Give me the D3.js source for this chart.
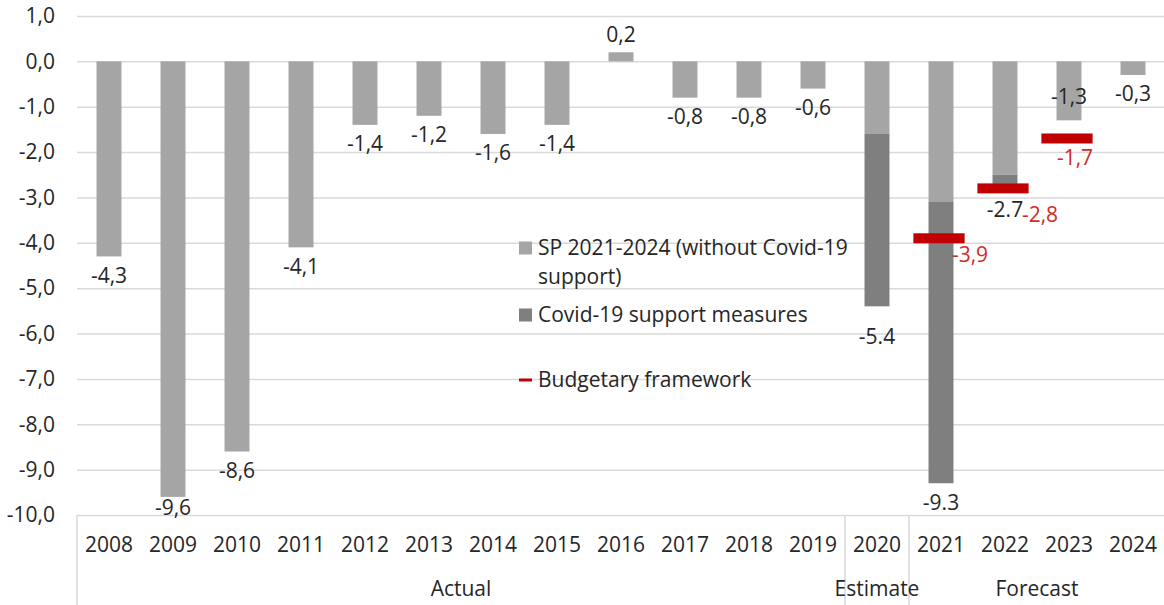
<!DOCTYPE html>
<html>
<head>
<meta charset="utf-8">
<script src="https://cdn.jsdelivr.net/npm/d3@7"></script>
<style>
  body { margin: 0; background: #fff; }
  text { font-family: "Open Sans", sans-serif; font-size: 21px; fill: #262626; }
</style>
</head>
<body>
<script>
// chart data
const years = ['2008', '2009', '2010', '2011', '2012', '2013', '2014', '2015', '2016',
  '2017', '2018', '2019', '2020', '2021', '2022', '2023', '2024'];
const spValues = [-4.3, -9.6, -8.6, -4.1, -1.4, -1.2, -1.6, -1.4, 0.2,
  -0.8, -0.8, -0.6, -1.6, -3.1, -2.5, -1.3, -0.3];
const covidValues = [0, 0, 0, 0, 0, 0, 0, 0, 0, 0, 0, 0, -3.8, -6.2, -0.2, 0, 0];
const frameworkYears = ['2021', '2022', '2023'];
const frameworkValues = [-3.9, -2.8, -1.7];
const groupNames = ['Actual', 'Estimate', 'Forecast'];
const groupFirst = ['2008', '2020', '2021'];
const groupLast = ['2019', '2020', '2024'];
const yTicks = [1, 0, -1, -2, -3, -4, -5, -6, -7, -8, -9, -10];
const legendLabels = ['SP 2021-2024 (without Covid-19|support)', 'Covid-19 support measures', 'Budgetary framework'];

// hand placed label nudges (px), like the moved labels in the original
const labelNudge = { '2009': -8, '2020': 11, '2022': 7, '2023': -43 };
const redNudge = [[29, 16], [35, 26], [6, 19]];

const width = 1164;
const height = 605;
const margin = { top: 16, left: 77, right: 0 };
const plotBottom = 515;

const svg = d3.select('body').append('svg')
  .attr('width', width)
  .attr('height', height);

const x = d3.scaleBand()
  .domain(years)
  .range([margin.left, width + 1])
  .paddingInner(0.61)
  .paddingOuter(0.305);

const y = d3.scaleLinear()
  .domain([-10, 1])
  .range([plotBottom, margin.top]);

const fmtComma = d => d3.format('.1f')(d).replace('.', ',').replace('−', '-');
const fmtDot = d => d3.format('.1f')(d).replace('−', '-');

// gridlines + y labels
const yAxis = d3.axisLeft(y)
  .tickValues(yTicks)
  .tickSize(-(width - margin.left))
  .tickPadding(22)
  .tickFormat(fmtComma);

svg.append('g')
  .attr('transform', `translate(${margin.left},0)`)
  .call(yAxis)
  .call(g => g.select('.domain').remove())
  .call(g => g.selectAll('.tick line').attr('stroke', '#d9d9d9').attr('stroke-width', 1.5))
  .call(g => g.selectAll('.tick text').attr('font-size', 21).attr('fill', '#262626')
    .attr('font-family', '"Open Sans", sans-serif'));

// category axis with group separators
const step = x.step();
const sepX = [margin.left];
groupLast.forEach(yr => sepX.push(x(yr) + x.bandwidth() / 2 + step / 2));
svg.append('g').selectAll('line')
  .data(sepX)
  .enter().append('line')
  .attr('x1', d => d).attr('x2', d => d)
  .attr('y1', plotBottom).attr('y2', height)
  .attr('stroke', '#d9d9d9')
  .attr('stroke-width', 1.5);

svg.append('g').selectAll('text')
  .data(years)
  .enter().append('text')
  .attr('x', d => x(d) + x.bandwidth() / 2)
  .attr('y', 545)
  .attr('dy', '0.35em')
  .attr('text-anchor', 'middle')
  .text(d => d);

svg.append('g').selectAll('text')
  .data(groupNames)
  .enter().append('text')
  .attr('x', (d, i) => {
    const a = x(groupFirst[i]) + x.bandwidth() / 2 - step / 2;
    const b = x(groupLast[i]) + x.bandwidth() / 2 + step / 2;
    return (a + b) / 2;
  })
  .attr('y', 589)
  .attr('dy', '0.35em')
  .attr('text-anchor', 'middle')
  .text(d => d);

// bars
const rows = years.map((yr, i) => ({ year: yr, sp: spValues[i], covid: covidValues[i] }));

svg.append('g').selectAll('rect')
  .data(rows)
  .enter().append('rect')
  .attr('x', d => x(d.year))
  .attr('width', x.bandwidth())
  .attr('y', d => y(Math.max(0, d.sp)))
  .attr('height', d => Math.abs(y(d.sp) - y(0)))
  .attr('fill', '#a5a5a5');

svg.append('g').selectAll('rect')
  .data(rows.filter(d => d.covid !== 0))
  .enter().append('rect')
  .attr('x', d => x(d.year))
  .attr('width', x.bandwidth())
  .attr('y', d => y(d.sp))
  .attr('height', d => y(d.sp + d.covid) - y(d.sp))
  .attr('fill', '#7f7f7f');

// bar labels (stacked totals use a dot, as in the original)
svg.append('g').selectAll('text')
  .data(rows)
  .enter().append('text')
  .attr('x', d => x(d.year) + x.bandwidth() / 2)
  .attr('y', d => {
    const total = d.sp + d.covid;
    const base = total >= 0 ? y(total) - 18 : y(total) + 19;
    return base + (labelNudge[d.year] || 0);
  })
  .attr('dy', '0.35em')
  .attr('text-anchor', 'middle')
  .text(d => d.covid !== 0 ? fmtDot(d.sp + d.covid) : fmtComma(d.sp));

// budgetary framework markers
const redW = step * 0.8;
svg.append('g').selectAll('rect')
  .data(frameworkYears)
  .enter().append('rect')
  .attr('x', d => x(d) + x.bandwidth() / 2 - redW / 2 - 2)
  .attr('y', (d, i) => y(frameworkValues[i]) - 5)
  .attr('width', redW)
  .attr('height', 10)
  .attr('fill', '#c00000');

svg.append('g').selectAll('text')
  .data(frameworkYears)
  .enter().append('text')
  .attr('x', (d, i) => x(d) + x.bandwidth() / 2 + redNudge[i][0])
  .attr('y', (d, i) => y(frameworkValues[i]) + redNudge[i][1])
  .attr('dy', '0.35em')
  .attr('text-anchor', 'middle')
  .style('fill', '#d42a2a')
  .text((d, i) => fmtComma(frameworkValues[i]));

// legend
const legend = svg.append('g').attr('transform', 'translate(519,0)');
const legendY = [248, 315, 380];
const legendColors = ['#a5a5a5', '#7f7f7f', '#c00000'];
legendLabels.forEach((lbl, i) => {
  if (i < 2) {
    legend.append('rect')
      .attr('x', 0).attr('y', legendY[i] - 6.5)
      .attr('width', 13).attr('height', 13)
      .attr('fill', legendColors[i]);
  } else {
    legend.append('rect')
      .attr('x', 0).attr('y', legendY[i] - 1.5)
      .attr('width', 13).attr('height', 3)
      .attr('fill', legendColors[i]);
  }
  lbl.split('|').forEach((line, j) => {
    legend.append('text')
      .attr('x', 19)
      .attr('y', legendY[i] + j * 29)
      .attr('dy', '0.35em')
      .text(line);
  });
});
</script>
</body>
</html>
